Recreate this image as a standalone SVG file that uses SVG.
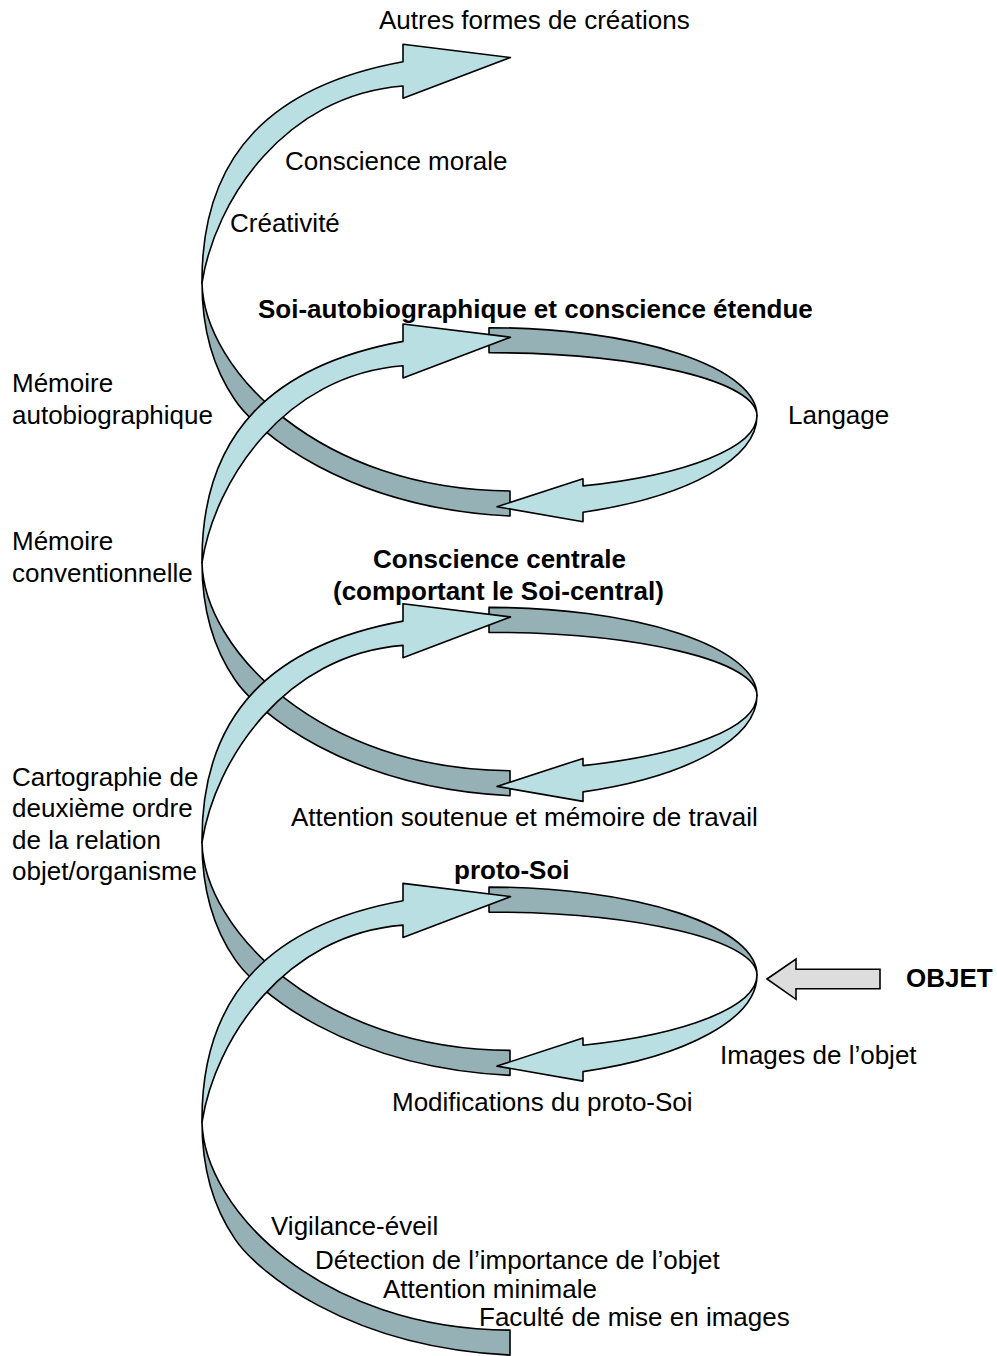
<svg xmlns="http://www.w3.org/2000/svg" xmlns:xlink="http://www.w3.org/1999/xlink" width="997" height="1356" viewBox="0 0 997 1356">
<style>
.lt{fill:#badfe3;stroke:#000;stroke-width:1.6;stroke-linejoin:round}
.dk{fill:#95b1b5;stroke:#000;stroke-width:1.6;stroke-linejoin:round}
.gr{fill:#dddddd;stroke:#000;stroke-width:1.6;stroke-linejoin:miter}
text{font-family:"Liberation Sans",Arial,sans-serif;font-size:26px;fill:#000}
.b{font-weight:bold}
</style>
<defs>
<path id="A" d="M202,283 C215,200 285,95 403,86 L403,98.3 L510.5,57.5 L403,44.3 L403,61.7 C275,85 201,152 202,283 Z"/>
<path id="D" d="M202,283 C202,330 213,368 235,400 C255,430 345,508 510,516 L510,491 C320,490 204,370 202,283 Z"/>
<path id="RT" d="M489,48 A268,88 0 0 1 757,136 A268,63 0 0 0 489,73 Z"/>
<path id="RB" d="M757,136 A268,103 0 0 1 583,232.5 L583,242 L497,227 L583,199 L583,206.2 A268,75 0 0 0 757,136 Z"/>
</defs>
<g id="spiral">
<g id="back-bands">
<use xlink:href="#D" class="dk"/>
<use xlink:href="#D" class="dk" transform="translate(0,279.7)"/>
<use xlink:href="#D" class="dk" transform="translate(0,559.4)"/>
<use xlink:href="#D" class="dk" transform="translate(0,839.1)"/>
<use xlink:href="#RT" class="dk" transform="translate(0,279.7)"/>
<use xlink:href="#RT" class="dk" transform="translate(0,559.4)"/>
<use xlink:href="#RT" class="dk" transform="translate(0,839.1)"/>
</g>
<g id="return-arrows">
<use xlink:href="#RB" class="lt" transform="translate(0,279.7)"/>
<use xlink:href="#RB" class="lt" transform="translate(0,559.4)"/>
<use xlink:href="#RB" class="lt" transform="translate(0,839.1)"/>
</g>
<g id="rising-arrows">
<use xlink:href="#A" class="lt"/>
<use xlink:href="#A" class="lt" transform="translate(0,279.7)"/>
<use xlink:href="#A" class="lt" transform="translate(0,559.4)"/>
<use xlink:href="#A" class="lt" transform="translate(0,839.1)"/>
</g>
</g>
<g id="objet">
<polygon class="gr" points="767,979 796,959 796,969.3 880,969.3 880,988.7 796,988.7 796,999.3"/>
<text class="b" x="906" y="987">OBJET</text>
</g>
<g id="level-top">
<text x="379" y="29">Autres formes de créations</text>
<text x="285" y="170">Conscience morale</text>
<text x="230" y="232">Créativité</text>
</g>
<g id="level-autobiographique">
<text class="b" x="258" y="318">Soi-autobiographique et conscience étendue</text>
<text x="12" y="392">Mémoire</text>
<text x="12" y="424">autobiographique</text>
<text x="788" y="424">Langage</text>
</g>
<g id="level-centrale">
<text x="12" y="550">Mémoire</text>
<text x="12" y="582">conventionnelle</text>
<text class="b" x="373" y="568">Conscience centrale</text>
<text class="b" x="333" y="600">(comportant le Soi-central)</text>
<text x="291" y="826">Attention soutenue et mémoire de travail</text>
</g>
<g id="level-cartographie">
<text x="12" y="786">Cartographie de</text>
<text x="12" y="817">deuxième ordre</text>
<text x="12" y="849">de la relation</text>
<text x="12" y="880">objet/organisme</text>
</g>
<g id="level-proto">
<text class="b" x="454" y="879">proto-Soi</text>
<text x="720" y="1064">Images de l’objet</text>
<text x="392" y="1111">Modifications du proto-Soi</text>
</g>
<g id="level-base">
<text x="271" y="1235">Vigilance-éveil</text>
<text x="315" y="1269">Détection de l’importance de l’objet</text>
<text x="383" y="1298">Attention minimale</text>
<text x="479" y="1326">Faculté de mise en images</text>
</g>
</svg>
